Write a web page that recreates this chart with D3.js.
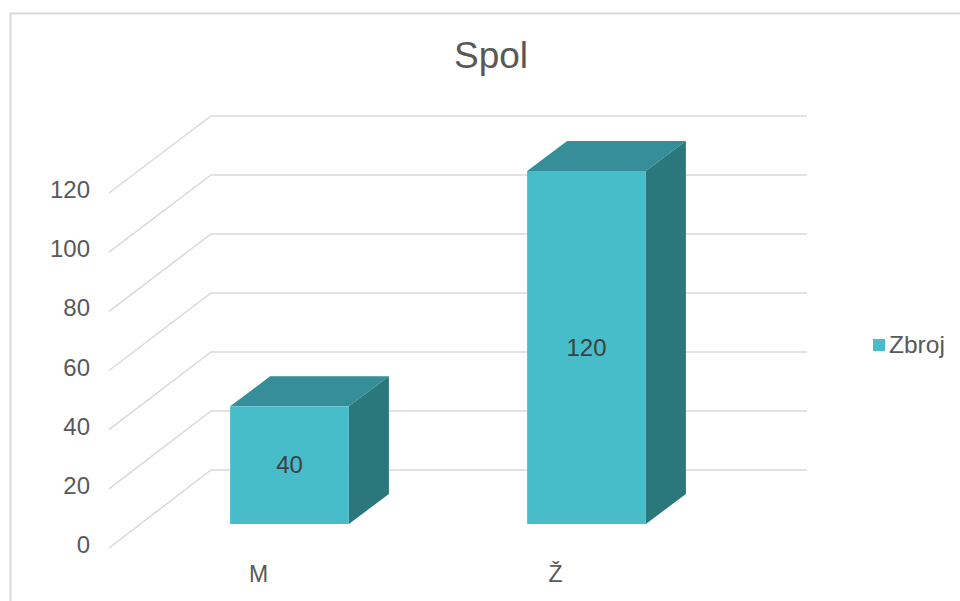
<!DOCTYPE html>
<html>
<head>
<meta charset="utf-8">
<script src="https://cdn.jsdelivr.net/npm/d3@7/dist/d3.min.js"></script>
<style>
html,body{margin:0;padding:0;background:#fff;overflow:hidden}
svg{display:block}
text{font-family:"Liberation Sans",Arial,sans-serif;fill:#595959}
</style>
</head>
<body>
<svg id="chart" width="960" height="601"></svg>
<script>
const chartTitle = "Spol";
const seriesName = "Zbroj";
const categories = ["M", "Ž"];
const values = [40, 120];
const tickValues = [0, 20, 40, 60, 80, 100, 120];

const svg = d3.select("#chart");
const frontY = d3.scaleLinear().domain([0, 120]).range([548, 193]);
const backY = d3.scaleLinear().domain([0, 120]).range([470, 116]);
const barY = d3.scaleLinear().domain([0, 120]).range([524, 171]);
const x = d3.scaleBand().domain(categories).range([141, 735]).paddingInner(0.6).paddingOuter(0.3);
const wallFrontX = 109, wallBackX = 211, wallRightX = 807;
const depthX = 40, depthY = 30;

// chart border, cropped by the screenshot on the right and bottom
svg.append("path").attr("d", "M10.5,601V13.5H960").attr("fill", "none")
  .attr("stroke", "#d9d9d9").attr("stroke-width", 2);

// gridlines on floor/side and back wall
svg.append("g").selectAll("path").data(tickValues).join("path")
  .attr("fill", "none").attr("stroke", "#d9d9d9").attr("stroke-width", 1.5)
  .attr("d", d => d3.line()([[wallFrontX, frontY(d)], [wallBackX, backY(d)], [wallRightX, backY(d)]]));

// axis labels
svg.append("g").attr("font-size", 24).attr("text-anchor", "end")
  .selectAll("text").data(tickValues).join("text")
  .attr("x", 90).attr("y", d => frontY(d) + 5).text(d => d);

// bars
const bars = svg.append("g").selectAll("g").data(categories.map((c, i) => ({c, v: values[i]}))).join("g");
const poly = pts => d3.line()(pts) + "Z";
bars.append("path").attr("fill", "#358e99").attr("d", d => {
  const l = x(d.c), r = l + x.bandwidth(), t = barY(d.v);
  return poly([[l, t], [l + depthX, t - depthY], [r + depthX, t - depthY], [r, t]]);
});
bars.append("path").attr("fill", "#2a777c").attr("d", d => {
  const r = x(d.c) + x.bandwidth(), t = barY(d.v), b = barY(0);
  return poly([[r, t], [r + depthX, t - depthY], [r + depthX, b - depthY], [r, b]]);
});
bars.append("rect").attr("fill", "#47bdc9")
  .attr("x", d => x(d.c)).attr("width", x.bandwidth())
  .attr("y", d => barY(d.v)).attr("height", d => barY(0) - barY(d.v));
bars.append("text").attr("font-size", 24).attr("text-anchor", "middle")
  .style("fill", "#404040")
  .attr("x", d => x(d.c) + x.bandwidth() / 2)
  .attr("y", d => (barY(d.v) + barY(0)) / 2 + 8).text(d => d.v);

// category labels
svg.append("g").attr("font-size", 23).attr("text-anchor", "middle")
  .selectAll("text").data(categories).join("text")
  .attr("x", d => x(d) + 28.5).attr("y", 582).text(d => d);

// title
svg.append("text").attr("x", 491).attr("y", 68).attr("text-anchor", "middle")
  .attr("font-size", 37).style("fill", "#595959").text(chartTitle);

// legend
svg.append("rect").attr("x", 873).attr("y", 339).attr("width", 12).attr("height", 12).attr("fill", "#47bdc9");
svg.append("text").attr("x", 889).attr("y", 353).attr("font-size", 24.5).text(seriesName);
</script>
</body>
</html>
